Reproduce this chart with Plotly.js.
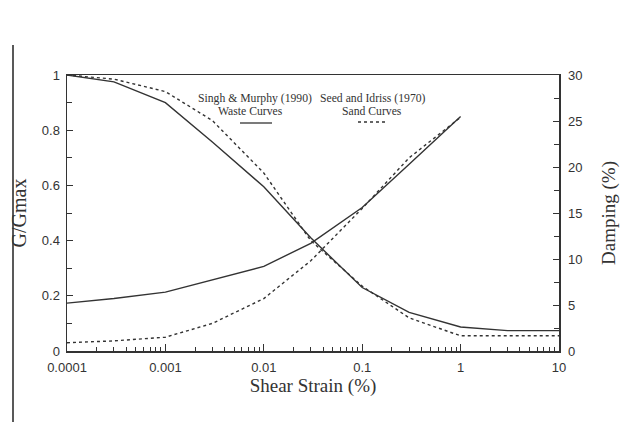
<!DOCTYPE html>
<html>
<head>
<meta charset="utf-8">
<script src="https://cdn.plot.ly/plotly-3.0.1.min.js"></script>
<style>html,body{margin:0;padding:0;background:#fff;}#chart{width:636px;height:422px;}</style>
</head>
<body>
<div id="chart"></div>
<script>
// Data
const strain = [0.0001, 0.0003, 0.001, 0.003, 0.01, 0.03, 0.1, 0.3, 1, 3, 10];
const gWaste = [1, 0.975, 0.90, 0.757, 0.595, 0.41, 0.23, 0.14, 0.087, 0.074, 0.074];
const gSand = [1, 0.985, 0.94, 0.835, 0.645, 0.40, 0.235, 0.12, 0.055, 0.055, 0.055];
const strainDamp = [0.0001, 0.0003, 0.001, 0.003, 0.01, 0.03, 0.1, 0.3, 1];
const dampWaste = [5.2, 5.7, 6.4, 7.7, 9.2, 11.7, 15.6, 20.3, 25.5];
const dampSand = [0.9, 1.1, 1.5, 3.0, 5.7, 9.8, 15.5, 21.0, 25.4];
const xTickVals = [0.0001, 0.001, 0.01, 0.1, 1, 10];
const xTickText = ["0.0001", "0.001", "0.01", "0.1", "1", "10"];
const gTickVals = [0, 0.2, 0.4, 0.6, 0.8, 1];
const gTickText = ["0", "0.2", "0.4", "0.6", "0.8", "1"];
const dTickVals = [0, 5, 10, 15, 20, 25, 30];

const ink = '#333333';
const lineW = 1.4;

const traces = [
  {x: strain, y: gWaste, type: 'scatter', mode: 'lines', name: 'G/Gmax waste (Singh & Murphy 1990)',
   line: {color: ink, width: lineW}, xaxis: 'x', yaxis: 'y'},
  {x: strain, y: gSand, type: 'scatter', mode: 'lines', name: 'G/Gmax sand (Seed and Idriss 1970)',
   line: {color: ink, width: lineW, dash: 'dot'}, xaxis: 'x', yaxis: 'y'},
  {x: strainDamp, y: dampWaste, type: 'scatter', mode: 'lines', name: 'Damping waste (Singh & Murphy 1990)',
   line: {color: ink, width: lineW}, xaxis: 'x', yaxis: 'y2'},
  {x: strainDamp, y: dampSand, type: 'scatter', mode: 'lines', name: 'Damping sand (Seed and Idriss 1970)',
   line: {color: ink, width: lineW, dash: 'dot'}, xaxis: 'x', yaxis: 'y2'}
];

const tickFont = {family: 'Liberation Sans, Arial, sans-serif', size: 13, color: '#333'};
const titleFont = {family: 'Liberation Serif, Times New Roman, serif', size: 19, color: '#333'};
const yTitleFont = {family: 'Liberation Serif, Times New Roman, serif', size: 20, color: '#333'};
const noteFont = {family: 'Liberation Serif, Times New Roman, serif', size: 11.7, color: '#333'};

// pixel helpers for decorations (plot area: x 67..559, y 75..351)
const L = 67, R = 559, T = 75, B = 351;
const px = v => (v - L) / (R - L);
const py = v => (B - v) / (B - T);

const note = (text, x, y) => ({text: text, xref: 'paper', yref: 'paper', x: px(x), y: py(y),
  xanchor: 'center', yanchor: 'middle', showarrow: false, font: noteFont});

const layout = {
  width: 636, height: 422,
  margin: {l: L, r: 636 - R, t: T, b: 422 - B, pad: 0},
  paper_bgcolor: '#fff', plot_bgcolor: '#fff',
  showlegend: false,
  xaxis: {
    type: 'log', range: [-4, 1], tickmode: 'array', tickvals: xTickVals, ticktext: xTickText,
    ticks: 'inside', ticklen: 7, tickcolor: ink, tickwidth: 1, ticklabelstandoff: 4,
    minor: {ticks: 'inside', ticklen: 4, tickcolor: ink, dtick: 'D1', showgrid: false},
    showline: true, linecolor: ink, linewidth: 1.5, mirror: true,
    showgrid: false, zeroline: false, tickfont: tickFont,
    title: {text: 'Shear Strain (%)', font: titleFont, standoff: 1}
  },
  yaxis: {
    range: [0, 1], tickmode: 'array', tickvals: gTickVals, ticktext: gTickText,
    ticks: 'inside', ticklen: 6, tickcolor: ink, ticklabelstandoff: 3,
    minor: {ticks: 'inside', ticklen: 5, tickcolor: ink, dtick: 0.1, showgrid: false},
    showline: true, linecolor: ink, linewidth: 1.5,
    showgrid: false, zeroline: false, tickfont: tickFont,
    title: {text: 'G/Gmax', font: yTitleFont, standoff: 10}
  },
  yaxis2: {
    overlaying: 'y', side: 'right', range: [0, 30], tickmode: 'array', tickvals: dTickVals,
    ticks: 'inside', ticklen: 6, tickcolor: ink, ticklabelstandoff: 5,
    minor: {ticks: 'inside', ticklen: 5, tickcolor: ink, dtick: 2.5, showgrid: false},
    showline: true, linecolor: ink, linewidth: 1.5,
    showgrid: false, zeroline: false, tickfont: tickFont,
    title: {text: 'Damping (%)', font: titleFont, standoff: 20}
  },
  annotations: [
    note('Singh &amp; Murphy (1990)', 255, 98),
    note('Waste Curves', 250, 111),
    note('Seed and Idriss (1970)', 373, 98),
    note('Sand Curves', 372, 111)
  ],
  shapes: [
    {type: 'line', xref: 'paper', yref: 'paper', x0: px(240), x1: px(272), y0: py(123), y1: py(123), line: {color: ink, width: 1.3}},
    {type: 'line', xref: 'paper', yref: 'paper', x0: px(358), x1: px(388), y0: py(122), y1: py(122), line: {color: ink, width: 1.3, dash: 'dot'}},
    {type: 'line', xref: 'paper', yref: 'paper', x0: px(13), x1: px(13), y0: py(45), y1: py(422), line: {color: '#222', width: 1.5}}
  ]
};

Plotly.newPlot('chart', traces, layout, {displayModeBar: false, staticPlot: true});
</script>
</body>
</html>
